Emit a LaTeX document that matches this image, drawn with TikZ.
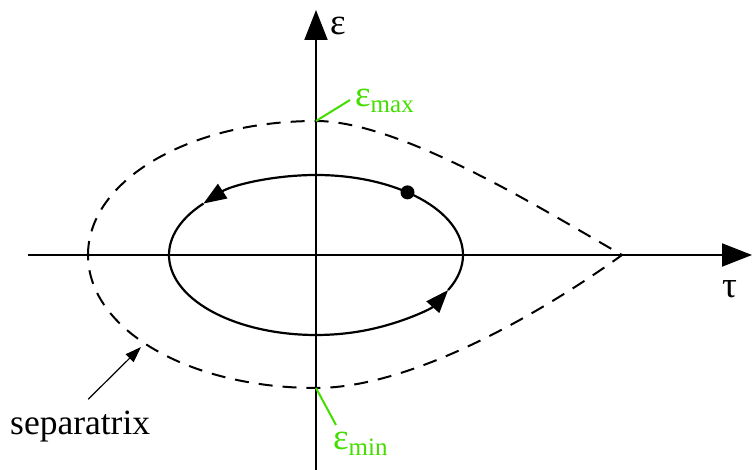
\documentclass[tikz,border=0pt]{standalone}
\usepackage{fontspec}
\setmainfont{Liberation Serif}
\usetikzlibrary{arrows.meta,positioning,calc}
\definecolor{limeGreen}{HTML}{44DD00}
\newcommand{\bigfont}{\fontsize{37}{40}\selectfont}
\newcommand{\subfont}{\fontsize{25}{28}\selectfont}

\begin{document}
\begin{tikzpicture}[x=1pt,y=1pt,
    axis/.style={line width=2pt,-{Triangle[length=30pt,width=23pt]}},
    orbit/.style={line width=2.2pt},
    orbitarrow/.style={orbit,-{Triangle[length=23pt,width=17pt]}},
    separatrix/.style={line width=2pt,dash pattern=on 14pt off 10pt},
    marker/.style={line width=2pt,limeGreen},
    label/.style={inner sep=0pt,anchor=base west}]
  \useasboundingbox (-316,-215) rectangle (436,255);

  % axes
  \coordinate (origin) at (0,0);
  \draw[axis] (-288,0) -- (436,0);
  \draw[axis] (0,-215) -- (0,245);
  \node[label] (epsaxis) at (14,220) {\bigfont ε};
  \node[label] (tauaxis) at (406,-43) {\bigfont τ};

  % orbit
  \draw[orbitarrow] (0:147 and 80)
    arc[start angle=0,end angle=140,x radius=147,y radius=80];
  \draw[orbitarrow] (140:147 and 80)
    arc[start angle=140,end angle=334,x radius=147,y radius=80];
  \draw[orbit] (334:147 and 80)
    arc[start angle=334,end angle=360,x radius=147,y radius=80];
  \fill (51.5:147 and 80) circle (7);

  % separatrix
  \coordinate (emax) at (0,134);
  \coordinate (emin) at (0,-133);
  \coordinate (cusp) at (306,0);
  \draw[separatrix] (-228,0)
    .. controls (-228,75) and (-126,134) .. (emax)
    .. controls (84,134) and (224,47) .. (cusp)
    .. controls (244,-45) and (104,-133) .. (emin)
    .. controls (-126,-133) and (-228,-75) .. (-228,0);

  \node[label,text=limeGreen] (emaxlabel) at (39,148)
    {\bigfont ε\raisebox{-6pt}{\subfont max}};
  \node[label,text=limeGreen] (eminlabel) at (17,-195)
    {\bigfont ε\raisebox{-6pt}{\subfont min}};
  \draw[marker] (emax) -- ([shift={(-5,7)}]emaxlabel.base west);
  \draw[marker] (emin) -- ([shift={(3,25)}]eminlabel.base west);

  \node[label] (seplabel) at (-306,-180) {\fontsize{35.5}{38}\selectfont separatrix};
  \coordinate (septip) at (-175,-92);
  \draw[line width=1.2pt,-{Triangle[length=16pt,width=11pt]}]
    ([shift={(8,12)}]seplabel.north) -- (septip);
\end{tikzpicture}
\end{document}
